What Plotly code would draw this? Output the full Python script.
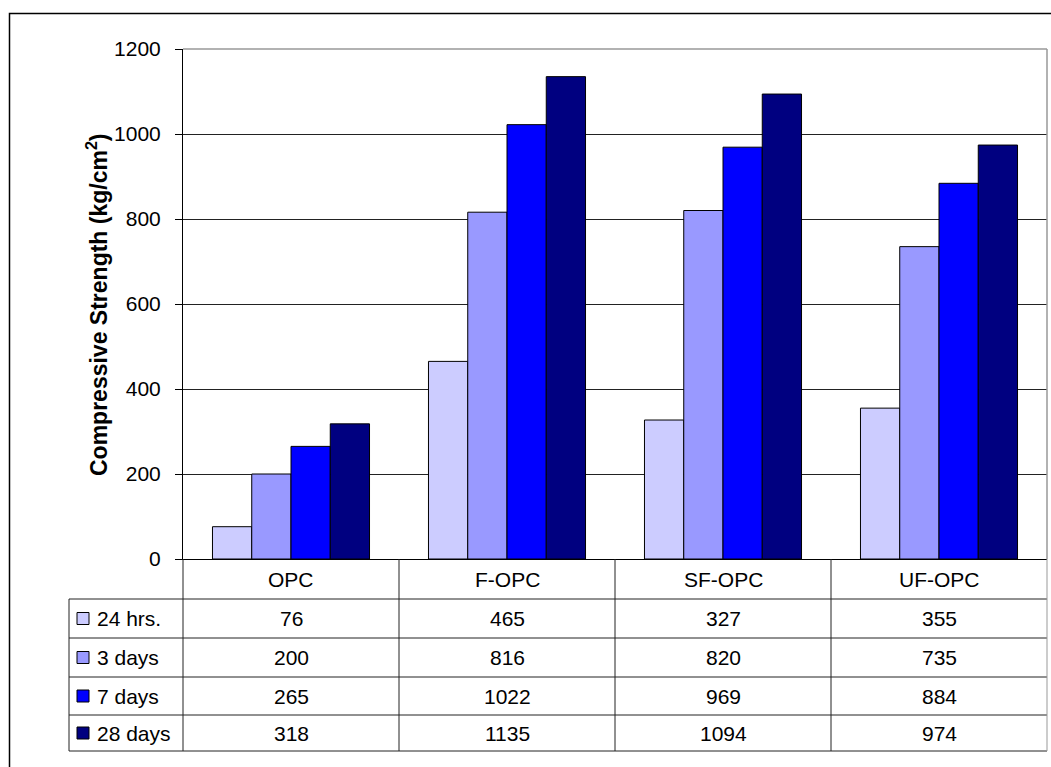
import plotly.graph_objects as go

# Compressive strength of mortar mixes at different curing ages
categories = ["OPC", "F-OPC", "SF-OPC", "UF-OPC"]
ages = ["24 hrs.", "3 days", "7 days", "28 days"]
strength_24h = [76, 465, 327, 355]
strength_3d = [200, 816, 820, 735]
strength_7d = [265, 1022, 969, 884]
strength_28d = [318, 1135, 1094, 974]
series = [strength_24h, strength_3d, strength_7d, strength_28d]
colors = ["#CCCCFF", "#9999FF", "#0000FF", "#000080"]

W, H = 1051, 767
PL, PR, PT, PB = 183, 1047, 49, 559  # plot area in pixels
FONT = "Liberation Sans, Arial, sans-serif"
FS = 21


def fx(p):
    return (p - PL) / (PR - PL)


def fy(p):
    return (PB - p) / (PB - PT)


fig = go.Figure()
for name, vals, col in zip(ages, series, colors):
    fig.add_trace(go.Bar(
        x=categories, y=vals, name=name,
        marker=dict(color=col, line=dict(color="black", width=1)),
    ))

shapes = []
line_dark = dict(color="#222222", width=1)
# outer chart frame
shapes.append(dict(type="rect", xref="paper", yref="paper",
                   x0=fx(9.5), x1=fx(1060), y0=fy(13.5), y1=fy(780),
                   line=dict(color="black", width=1.5), layer="below"))
# plot area border (top and right)
shapes.append(dict(type="line", xref="paper", yref="paper",
                   x0=0, x1=1, y0=1, y1=1, line=dict(color="#999999", width=1.5)))
shapes.append(dict(type="line", xref="paper", yref="paper",
                   x0=1, x1=1, y0=0, y1=1, line=dict(color="#999999", width=1.5)))

# data table grid
row_lines = [599, 638, 677, 715, 751]
for ry in row_lines:
    shapes.append(dict(type="line", xref="paper", yref="paper",
                       x0=fx(69), x1=1, y0=fy(ry), y1=fy(ry), line=line_dark))
shapes.append(dict(type="line", xref="paper", yref="paper",
                   x0=fx(69), x1=fx(69), y0=fy(599), y1=fy(751), line=line_dark))
n = len(categories)
for i in range(n + 1):
    col_x = i / n
    shapes.append(dict(type="line", xref="paper", yref="paper",
                       x0=col_x, x1=col_x, y0=0, y1=fy(751),
                       line=dict(color="#999999" if i == n else "#222222", width=1)))

annotations = []
header_y = (559 + 599) / 2
for i, cat in enumerate(categories):
    annotations.append(dict(xref="paper", yref="paper", x=(i + 0.5) / n, y=fy(header_y),
                            text=cat, showarrow=False, xanchor="center", yanchor="middle",
                            font=dict(family=FONT, size=FS, color="black")))

for r, (name, vals, col) in enumerate(zip(ages, series, colors)):
    top, bot = row_lines[r], row_lines[r + 1]
    cy = (top + bot) / 2
    # legend key
    shapes.append(dict(type="rect", xref="paper", yref="paper",
                       x0=fx(77), x1=fx(89), y0=fy(cy - 6), y1=fy(cy + 6),
                       fillcolor=col, line=dict(color="black", width=1)))
    annotations.append(dict(xref="paper", yref="paper", x=fx(95), y=fy(cy),
                            text=name, showarrow=False, xanchor="left", yanchor="middle",
                            font=dict(family=FONT, size=FS, color="black")))
    for i, v in enumerate(vals):
        annotations.append(dict(xref="paper", yref="paper", x=(i + 0.5) / n, y=fy(cy),
                                text=str(v), showarrow=False, xanchor="center", yanchor="middle",
                                font=dict(family=FONT, size=FS, color="black")))

# y axis title
annotations.append(dict(xref="paper", yref="paper", x=fx(97), y=fy(305),
                        text="<b>Compressive Strength (kg/cm<sup>2</sup>)</b>",
                        textangle=-90, showarrow=False, xanchor="center", yanchor="middle",
                        font=dict(family=FONT, size=23, color="black")))

fig.update_layout(
    width=W, height=H,
    margin=dict(l=PL, r=W - PR, t=PT, b=H - PB, pad=0),
    paper_bgcolor="white", plot_bgcolor="white",
    barmode="group", bargap=0.273, bargroupgap=0,
    showlegend=False,
    shapes=shapes, annotations=annotations,
    font=dict(family=FONT, size=FS, color="black"),
)
fig.update_xaxes(showticklabels=False, showgrid=False, ticks="",
                 showline=True, linecolor="black", linewidth=1, zeroline=False)
fig.update_yaxes(range=[0, 1200], dtick=200, tick0=0,
                 showgrid=True, gridcolor="#222222", gridwidth=1,
                 ticks="outside", ticklen=7, tickcolor="black",
                 showline=True, linecolor="black", linewidth=1,
                 zeroline=False, ticklabelstandoff=10,
                 tickfont=dict(family=FONT, size=FS, color="black"))

fig.write_html("out.html")
